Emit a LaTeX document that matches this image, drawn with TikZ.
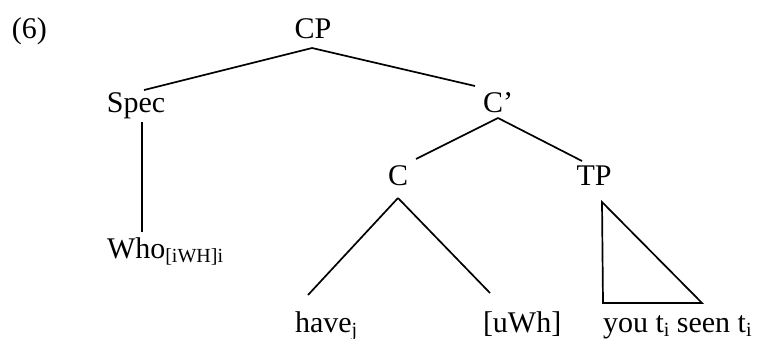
\documentclass[tikz,border=0pt]{standalone}
\usepackage{fontspec}
\setmainfont{Liberation Serif}
\usetikzlibrary{calc}
\newcommand\subtx[1]{\raisebox{-4pt}{\fontsize{20}{20}\selectfont #1}}
\begin{document}
\begin{tikzpicture}[x=1pt,y=-1pt,
  lbl/.style={inner sep=0pt,outer sep=0pt,font=\fontsize{30}{36}\selectfont},
  br/.style={line width=1.7pt}]
\useasboundingbox (0,0) rectangle (763,338);
\node[lbl,anchor=base west] (num) at (12,38) {(6)};
\node[lbl,anchor=base] (cp) at (313,38) {CP};
\node[lbl,anchor=base] (spec) at (136,112) {Spec};
\node[lbl,anchor=base west] (cbar) at (483,112) {C’};
\node[lbl,anchor=base] (c) at (398,185) {C};
\node[lbl,anchor=base] (tp) at (594,185) {TP};
\node[lbl,anchor=base west] (who) at (107,258) {Who\subtx{[iWH]i}};
\node[lbl,anchor=base west] (have) at (295,332) {have\subtx{j}};
\node[lbl,anchor=base west] (uwh) at (483,332) {[uWh]};
\node[lbl,anchor=base west] (you) at (603,332) {you t\subtx{i} seen t\subtx{i}};
\draw[br] ($(cp.base)+(-1,10)$) -- ($(spec.base)+(8,-22)$);
\draw[br] ($(cp.base)+(-1,10)$) -- ($(cbar.base west)+(-8,-26)$);
\draw[br] ($(spec.base)+(6,10)$) -- ($(who.base west)+(35,-26)$);
\draw[br] ($(cbar.base west)+(15,6)$) -- ($(c.base)+(18,-26)$);
\draw[br] ($(cbar.base west)+(15,6)$) -- ($(tp.base)+(-12,-24)$);
\draw[br] ($(c.base)+(0,13)$) -- ($(have.base west)+(13,-37)$);
\draw[br] ($(c.base)+(0,13)$) -- ($(uwh.base west)+(7,-39)$);
\draw[br,line join=miter] ($(tp.base)+(8,17)$) -- ($(you.base west)+(0,-29)$) -- ($(you.base west)+(99,-29)$) -- cycle;
\end{tikzpicture}
\end{document}
